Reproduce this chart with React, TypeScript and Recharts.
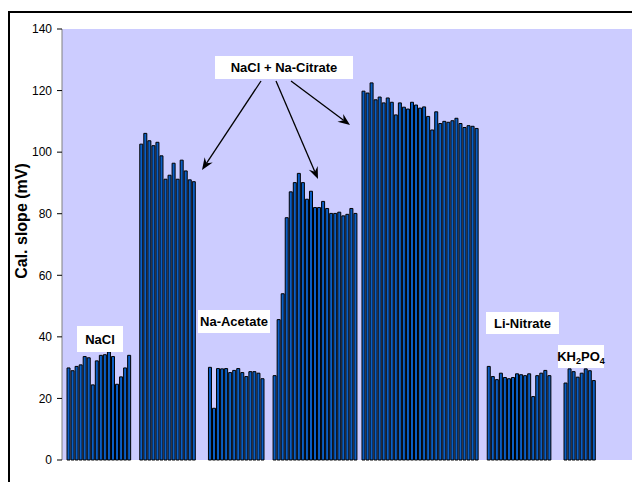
import React from 'react';
import { BarChart, Bar, XAxis, YAxis, CartesianGrid } from 'recharts';

// calibration slopes per sample run, mV
const nacl = [29.9, 29.0, 30.4, 30.9, 33.6, 33.2, 24.4, 32.2, 34.0, 34.2, 35.1, 33.6, 24.6, 27.0, 29.9, 34.0];
const citrateA = [102.6, 106.1, 103.7, 102.1, 103.2, 98.8, 91.2, 92.5, 96.4, 91.2, 97.4, 93.9, 91.0, 90.4];
const acetate = [30.1, 16.8, 29.7, 29.6, 29.7, 28.4, 29.1, 29.7, 28.4, 27.1, 28.7, 28.7, 28.2, 26.4];
const citrateB = [27.4, 45.6, 54.0, 78.7, 87.1, 90.1, 93.1, 90.1, 84.7, 87.3, 82.0, 82.0, 84.0, 81.7, 80.1, 80.1, 80.5, 79.3, 79.8, 81.7, 80.1];
const citrateC = [119.8, 119.2, 122.5, 117.0, 117.9, 116.0, 117.6, 116.2, 112.1, 116.0, 114.6, 114.0, 116.2, 115.3, 114.3, 114.7, 111.6, 107.2, 113.1, 109.3, 110.0, 109.7, 110.2, 111.0, 109.3, 108.0, 108.6, 108.4, 107.7];
const liNitrate = [30.4, 27.1, 26.1, 28.2, 26.8, 26.4, 26.8, 28.0, 27.7, 27.4, 28.0, 20.6, 27.4, 28.2, 29.1, 27.4];
const kh2po4 = [25.0, 29.6, 28.7, 26.9, 28.2, 29.6, 29.0, 25.8];

// empty slots before each group, and after the last one (plot runs off the right edge)
const groups = [nacl, citrateA, acetate, citrateB, citrateC, liNitrate, kh2po4];
const gapsBefore = [1, 2, 3, 2, 1, 2, 3];
const gapAfter = 16;

const yTicks = [0, 20, 40, 60, 80, 100, 120, 140];

const data: { i: string; v: number | null }[] = [];
groups.forEach((g, gi) => {
    for (let k = 0; k < gapsBefore[gi]; k++) data.push({ i: String(data.length), v: null });
    g.forEach((v) => data.push({ i: String(data.length), v }));
});
for (let k = 0; k < gapAfter; k++) data.push({ i: String(data.length), v: null });

const font = '"Liberation Sans", Arial, sans-serif';

const Arrow = ({ x1, y1, x2, y2 }: { x1: number; y1: number; x2: number; y2: number }) => {
    const a = Math.atan2(y2 - y1, x2 - x1);
    const len = 13;
    const wing = 0.38;
    const bx1 = x2 - len * Math.cos(a - wing);
    const by1 = y2 - len * Math.sin(a - wing);
    const bx2 = x2 - len * Math.cos(a + wing);
    const by2 = y2 - len * Math.sin(a + wing);
    const nx = x2 - 8 * Math.cos(a);
    const ny = y2 - 8 * Math.sin(a);
    return (
        <g>
            <line x1={x1} y1={y1} x2={nx} y2={ny} stroke="#000" strokeWidth={1.3} />
            <path d={`M${x2},${y2} L${bx1},${by1} L${nx},${ny} L${bx2},${by2} Z`} fill="#000" />
        </g>
    );
};

const Tag = ({ x, y, w, h, children }: { x: number; y: number; w: number; h: number; children: React.ReactNode }) => (
    <g>
        <rect x={x} y={y} width={w} height={h} fill="#fff" />
        <text x={x + w / 2} y={y + h / 2 + 4.5} textAnchor="middle" fontFamily={font} fontWeight="bold" fontSize={13} fill="#000">
            {children}
        </text>
    </g>
);

export default function App() {
    return (
        <div style={{ position: 'fixed', left: 0, top: 0, width: 632, height: 482, overflow: 'hidden', background: '#fff' }}>
            <div style={{ position: 'absolute', left: 0, top: 0 }}>
                <BarChart
                    width={660}
                    height={482}
                    data={data}
                    margin={{ top: 29, right: 0, bottom: 22, left: 0 }}
                    barCategoryGap={1}
                >
                    <CartesianGrid fill="#ccccff" horizontal={false} vertical={false} />
                    <XAxis dataKey="i" hide />
                    <YAxis
                        width={62}
                        domain={[0, 140]}
                        ticks={yTicks}
                        interval={0}
                        tickSize={5}
                        tickMargin={5}
                        axisLine={{ stroke: '#808080' }}
                        tickLine={{ stroke: '#000' }}
                        tick={{ fill: '#000', fontSize: 12, fontFamily: font }}
                    />
                    <Bar dataKey="v" fill="#0a5ec4" stroke="#000" strokeWidth={1} barSize={3} isAnimationActive={false} />
                </BarChart>
            </div>
            <div style={{ position: 'absolute', left: 8, top: 11, width: 700, height: 600, borderLeft: '2px solid #000', borderTop: '2px solid #000' }} />
            <svg width={610} height={482} style={{ position: 'absolute', left: 0, top: 0, pointerEvents: 'none', display: 'block' }}>
                <text
                    transform="translate(27,221) rotate(-90)"
                    textAnchor="middle"
                    fontFamily={font}
                    fontWeight="bold"
                    fontSize={16}
                    fill="#000"
                >
                    Cal. slope (mV)
                </text>
                <Tag x={215} y={56} w={138} h={23}>NaCl + Na-Citrate</Tag>
                <Tag x={77} y={326} w={46} h={26}>NaCl</Tag>
                <Tag x={198} y={310} w={72} h={23}>Na-Acetate</Tag>
                <Tag x={486} y={312} w={73} h={22}>Li-Nitrate</Tag>
                <Tag x={558} y={345} w={46} h={23}>
                    KH<tspan fontSize={9} dy={3}>2</tspan>
                    <tspan dy={-3}>PO</tspan>
                    <tspan fontSize={9} dy={3}>4</tspan>
                </Tag>
                <Arrow x1={261} y1={81} x2={202} y2={170} />
                <Arrow x1={276} y1={81} x2={318} y2={179} />
                <Arrow x1={291} y1={81} x2={350} y2={125} />
            </svg>
        </div>
    );
}
